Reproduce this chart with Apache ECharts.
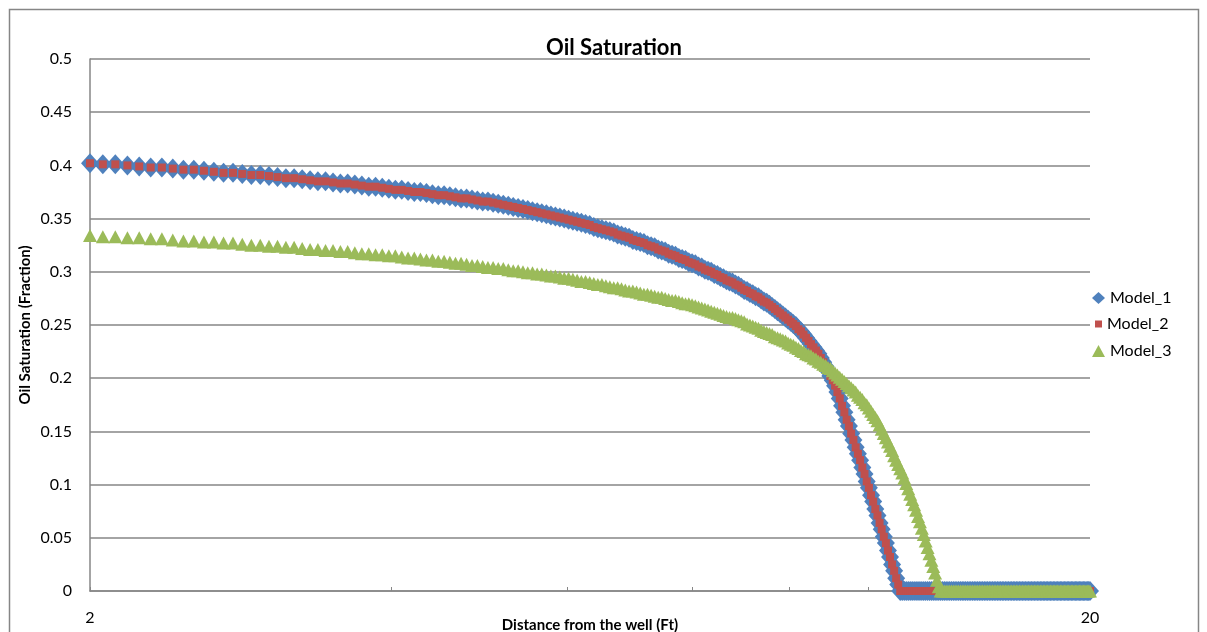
<!DOCTYPE html>
<html>
<head>
<meta charset="utf-8">
<script src="https://cdn.jsdelivr.net/npm/echarts@6/dist/echarts.min.js"></script>
<style>html,body{margin:0;padding:0;background:#fff;overflow:hidden}#chart{width:1207px;height:632px}</style>
</head>
<body>
<div id="chart"></div>
<script>
// Distance from the well (Ft)
const distance = [
2,2.06,2.12,2.18,2.24,2.3,2.36,2.42,2.48,2.54,
2.6,2.66,2.72,2.78,2.84,2.9,2.96,3.02,3.08,3.14,
3.2,3.26,3.32,3.38,3.44,3.5,3.56,3.62,3.68,3.74,
3.8,3.86,3.92,3.98,4.04,4.1,4.16,4.22,4.28,4.34,
4.4,4.46,4.52,4.58,4.64,4.7,4.76,4.82,4.88,4.94,
5,5.06,5.12,5.18,5.24,5.3,5.36,5.42,5.48,5.54,
5.6,5.66,5.72,5.78,5.84,5.9,5.96,6.02,6.08,6.14,
6.2,6.26,6.32,6.38,6.44,6.5,6.56,6.62,6.68,6.74,
6.8,6.86,6.92,6.98,7.04,7.1,7.16,7.22,7.28,7.34,
7.4,7.46,7.52,7.58,7.64,7.7,7.76,7.82,7.88,7.94,
8,8.06,8.12,8.18,8.24,8.3,8.36,8.42,8.48,8.54,
8.6,8.66,8.72,8.78,8.84,8.9,8.96,9.02,9.08,9.14,
9.2,9.26,9.32,9.38,9.44,9.5,9.56,9.62,9.68,9.74,
9.8,9.86,9.92,9.98,10.04,10.1,10.16,10.22,10.28,10.34,
10.4,10.46,10.52,10.58,10.64,10.7,10.76,10.82,10.88,10.94,
11,11.06,11.12,11.18,11.24,11.3,11.36,11.42,11.48,11.54,
11.6,11.66,11.72,11.78,11.84,11.9,11.96,12.02,12.08,12.14,
12.2,12.26,12.32,12.38,12.44,12.5,12.56,12.62,12.68,12.74,
12.8,12.86,12.92,12.98,13.04,13.1,13.16,13.22,13.28,13.34,
13.4,13.46,13.52,13.58,13.64,13.7,13.76,13.82,13.88,13.94,
14,14.06,14.12,14.18,14.24,14.3,14.36,14.42,14.48,14.54,
14.6,14.66,14.72,14.78,14.84,14.9,14.96,15.02,15.08,15.14,
15.2,15.26,15.32,15.38,15.44,15.5,15.56,15.62,15.68,15.74,
15.8,15.86,15.92,15.98,16.04,16.1,16.16,16.22,16.28,16.34,
16.4,16.46,16.52,16.58,16.64,16.7,16.76,16.82,16.88,16.94,
17,17.06,17.12,17.18,17.24,17.3,17.36,17.42,17.48,17.54,
17.6,17.66,17.72,17.78,17.84,17.9,17.96,18.02,18.08,18.14,
18.2,18.26,18.32,18.38,18.44,18.5,18.56,18.62,18.68,18.74,
18.8,18.86,18.92,18.98,19.04,19.1,19.16,19.22,19.28,19.34,
19.4,19.46,19.52,19.58,19.64,19.7,19.76,19.82,19.88,19.94,
20];

const model1 = [
.402,.401,.401,.400,.399,.398,.398,.397,.396,.396,
.395,.394,.393,.393,.392,.391,.391,.390,.389,.388,
.388,.387,.386,.385,.385,.384,.383,.383,.382,.381,
.380,.380,.379,.378,.377,.377,.376,.375,.375,.374,
.373,.372,.372,.371,.370,.369,.369,.368,.367,.366,
.366,.365,.364,.363,.362,.361,.360,.359,.358,.357,
.356,.355,.354,.353,.352,.351,.350,.349,.348,.347,
.346,.345,.344,.342,.341,.340,.339,.338,.337,.335,
.334,.333,.332,.330,.329,.328,.327,.325,.324,.323,
.321,.320,.319,.317,.316,.315,.313,.312,.311,.309,
.308,.307,.305,.304,.302,.301,.300,.298,.297,.295,
.294,.292,.291,.290,.288,.287,.285,.283,.282,.280,
.279,.277,.276,.274,.272,.271,.269,.267,.265,.263,
.261,.259,.257,.255,.253,.251,.249,.246,.244,.241,
.238,.235,.232,.229,.226,.223,.219,.215,.211,.207,
.202,.198,.193,.187,.181,.174,.168,.161,.155,.148,
.142,.135,.129,.123,.116,.110,.103,.097,.090,.084,
.077,.071,.064,.058,.051,.045,.038,.032,.025,.019,
.012,.006,0,0,0,0,0,0,0,0,
0,0,0,0,0,0,0,0,0,0,
0,0,0,0,0,0,0,0,0,0,
0,0,0,0,0,0,0,0,0,0,
0,0,0,0,0,0,0,0,0,0,
0,0,0,0,0,0,0,0,0,0,
0,0,0,0,0,0,0,0,0,0,
0,0,0,0,0,0,0,0,0,0,
0,0,0,0,0,0,0,0,0,0,
0,0,0,0,0,0,0,0,0,0,
0,0,0,0,0,0,0,0,0,0,
0,0,0,0,0,0,0,0,0,0,
0];

const model2 = [
.402,.401,.401,.400,.399,.398,.398,.397,.396,.396,
.395,.394,.393,.393,.392,.391,.391,.390,.389,.388,
.388,.387,.386,.385,.385,.384,.383,.383,.382,.381,
.380,.380,.379,.378,.377,.377,.376,.375,.375,.374,
.373,.372,.372,.371,.370,.369,.369,.368,.367,.366,
.366,.365,.364,.363,.362,.361,.360,.359,.358,.357,
.356,.355,.354,.353,.352,.351,.350,.349,.348,.347,
.346,.345,.344,.342,.341,.340,.339,.338,.337,.335,
.334,.333,.332,.330,.329,.328,.327,.325,.324,.323,
.321,.320,.319,.317,.316,.315,.313,.312,.311,.309,
.308,.307,.305,.304,.302,.301,.300,.298,.297,.295,
.294,.292,.291,.290,.288,.287,.285,.283,.282,.280,
.279,.277,.276,.274,.272,.271,.269,.267,.265,.263,
.261,.259,.257,.255,.253,.251,.249,.246,.244,.241,
.238,.235,.232,.229,.226,.223,.219,.215,.211,.207,
.202,.198,.193,.187,.181,.174,.168,.161,.155,.148,
.142,.135,.129,.123,.116,.110,.103,.097,.090,.084,
.077,.071,.064,.058,.051,.045,.038,.032,.025,.019,
.012,.006,0,0,0,0,0,0,0,0,
0,0,0,0,0,0,0,0,0,0,
0,0,0,0,0,0,0,0,0,0,
0,0,0,0,0,0,0,0,0,0,
0,0,0,0,0,0,0,0,0,0,
0,0,0,0,0,0,0,0,0,0,
0,0,0,0,0,0,0,0,0,0,
0,0,0,0,0,0,0,0,0,0,
0,0,0,0,0,0,0,0,0,0,
0,0,0,0,0,0,0,0,0,0,
0,0,0,0,0,0,0,0,0,0,
0,0,0,0,0,0,0,0,0,0,
0];

const model3 = [
.334,.333,.333,.332,.332,.331,.331,.330,.329,.329,
.328,.328,.327,.327,.326,.325,.325,.324,.324,.323,
.323,.322,.321,.321,.320,.320,.319,.319,.318,.317,
.317,.316,.316,.315,.315,.314,.313,.313,.312,.311,
.311,.310,.310,.309,.308,.308,.307,.306,.306,.305,
.304,.304,.303,.303,.302,.301,.301,.300,.299,.299,
.298,.298,.297,.296,.296,.295,.294,.294,.293,.292,
.291,.291,.290,.289,.288,.288,.287,.286,.285,.285,
.284,.283,.282,.282,.281,.280,.279,.279,.278,.277,
.276,.276,.275,.274,.273,.273,.272,.271,.270,.270,
.269,.268,.267,.266,.265,.264,.263,.262,.261,.260,
.259,.258,.257,.257,.256,.255,.254,.253,.251,.250,
.249,.248,.247,.245,.244,.243,.242,.241,.239,.238,
.237,.236,.235,.233,.232,.231,.229,.228,.226,.225,
.223,.222,.221,.219,.218,.216,.215,.213,.212,.210,
.209,.207,.205,.203,.201,.199,.197,.195,.193,.191,
.189,.187,.184,.182,.180,.177,.175,.172,.169,.166,
.163,.160,.156,.152,.148,.144,.140,.136,.132,.127,
.123,.119,.115,.111,.106,.101,.096,.091,.086,.081,
.076,.070,.065,.059,.053,.047,.041,.035,.029,.023,
.017,.010,.004,0,0,0,0,0,0,0,
0,0,0,0,0,0,0,0,0,0,
0,0,0,0,0,0,0,0,0,0,
0,0,0,0,0,0,0,0,0,0,
0,0,0,0,0,0,0,0,0,0,
0,0,0,0,0,0,0,0,0,0,
0,0,0,0,0,0,0,0,0,0,
0,0,0,0,0,0,0,0,0,0,
0,0,0,0,0,0,0,0,0,0,
0,0,0,0,0,0,0,0,0,0,
0];

const seriesNames = ['Model_1', 'Model_2', 'Model_3'];
const xLabelValues = [2, 20];
const xTickValues = [2, 4, 6, 8, 10, 12, 14, 16, 18, 20];

const FONT = 'Lato, "Liberation Sans", sans-serif';
const GREY = '#868686';

function pairs(ys) { return ys.map((y, i) => [distance[i], y]); }

const chart = echarts.init(document.getElementById('chart'), null, { renderer: 'canvas' });
chart.setOption({
  animation: false,
  backgroundColor: '#ffffff',
  textStyle: { fontFamily: FONT },
  title: {
    text: 'Oil Saturation',
    left: 609, top: 32, textAlign: 'center',
    textStyle: { fontFamily: FONT, fontWeight: 'bold', fontSize: 22, color: '#000' }
  },
  grid: { left: 90, right: 117, top: 59, bottom: 41, containLabel: false, outerBoundsMode: 'none' },
  xAxis: {
    type: 'log', logBase: 10, min: 2, max: 20,
    name: 'Distance from the well (Ft)',
    nameLocation: 'middle', nameGap: 27, nameMoveOverlap: false,
    nameTextStyle: { fontFamily: FONT, fontWeight: 'bold', fontSize: 15, color: '#000' },
    axisLine: { show: true, lineStyle: { color: GREY, width: 1.5 } },
    axisTick: { show: true, inside: true, length: 4, customValues: xTickValues, lineStyle: { color: GREY, width: 1 } },
    minorTick: { show: false },
    axisLabel: { customValues: xLabelValues, fontFamily: FONT, fontSize: 16, color: '#000', margin: 19 },
    splitLine: { show: false }
  },
  yAxis: {
    type: 'value', min: 0, max: 0.5, interval: 0.05,
    name: 'Oil Saturation (Fraction)',
    nameLocation: 'middle', nameGap: 57, nameMoveOverlap: false,
    nameTextStyle: { fontFamily: FONT, fontWeight: 'bold', fontSize: 15, color: '#000' },
    axisLine: { show: true, lineStyle: { color: GREY, width: 1.5 } },
    axisTick: { show: false },
    axisLabel: { fontFamily: FONT, fontSize: 16, color: '#000', margin: 18 },
    splitLine: { show: true, lineStyle: { color: GREY, width: 1.5 } }
  },
  legend: [
    { data: [seriesNames[0]], orient: 'vertical', left: 1092, top: 290, padding: 0,
      itemWidth: 13, itemHeight: 12, textStyle: { fontFamily: FONT, fontSize: 16, color: '#000', lineHeight: 16 } },
    { data: [seriesNames[1]], orient: 'vertical', left: 1095, top: 316, padding: 0,
      itemWidth: 7, itemHeight: 7, textStyle: { fontFamily: FONT, fontSize: 16, color: '#000', lineHeight: 16 } },
    { data: [seriesNames[2]], orient: 'vertical', left: 1092, top: 343, padding: 0,
      itemWidth: 13, itemHeight: 12, textStyle: { fontFamily: FONT, fontSize: 16, color: '#000', lineHeight: 16 } }
  ],
  graphic: [{
    type: 'rect', silent: true, z: -10,
    shape: { x: 9.5, y: 9.5, width: 1189, height: 700 },
    style: { fill: 'none', stroke: GREY, lineWidth: 1.5 }
  }],
  series: [
    { name: seriesNames[0], type: 'scatter', symbol: 'diamond', symbolSize: [18, 20],
      itemStyle: { color: '#4F81BD', opacity: 1 }, data: pairs(model1), z: 2 },
    { name: seriesNames[1], type: 'scatter', symbol: 'rect', symbolSize: [8, 8],
      itemStyle: { color: '#C0504D', opacity: 1 }, data: pairs(model2), z: 3 },
    { name: seriesNames[2], type: 'scatter', symbol: 'triangle', symbolSize: [14, 13],
      itemStyle: { color: '#9BBB59', opacity: 1 }, data: pairs(model3), z: 4 }
  ]
});
</script>
</body>
</html>
